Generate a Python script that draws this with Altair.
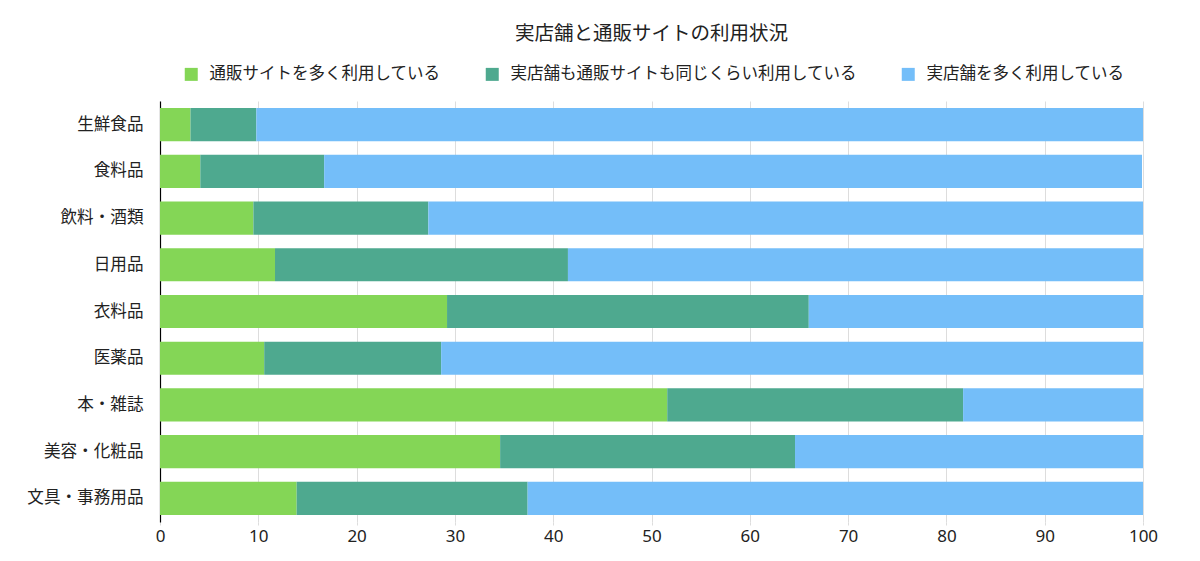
import altair as alt
import pandas as pd

categories = ["生鮮食品", "食料品", "飲料・酒類", "日用品", "衣料品", "医薬品", "本・雑誌", "美容・化粧品", "文具・事務用品"]
series = ["通販サイトを多く利用している", "実店舗も通販サイトも同じくらい利用している", "実店舗を多く利用している"]
online = [3.1, 4.1, 9.5, 11.7, 29.2, 10.6, 51.6, 34.6, 13.9]
both = [6.7, 12.6, 17.8, 29.8, 36.8, 18.0, 30.1, 30.0, 23.5]
store = [90.2, 83.2, 72.7, 58.5, 34.0, 71.4, 18.3, 35.4, 62.6]
colors = ["#84D656", "#4EA98F", "#74BEF9"]
tick_values = [0, 10, 20, 30, 40, 50, 60, 70, 80, 90, 100]

rows = []
for i, c in enumerate(categories):
    for j, vals in enumerate([online, both, store]):
        rows.append({"category": c, "series": series[j], "value": vals[i], "order": j})
df = pd.DataFrame(rows)

FONT = "Noto Sans CJK JP"

chart = alt.Chart(df).mark_bar().encode(
    y=alt.Y("category:N", sort=categories, title=None,
            scale=alt.Scale(paddingInner=0.29, paddingOuter=0.15),
            axis=alt.Axis(ticks=False, domain=True, domainColor="#000000", domainWidth=1.2,
                          labelPadding=17, labelFontSize=16.6, labelColor="#222222", labelFont=FONT)),
    x=alt.X("value:Q", stack="zero", title=None,
            scale=alt.Scale(domain=[0, 100], nice=False),
            axis=alt.Axis(values=tick_values, domain=False, grid=True, gridColor="#dddddd",
                          ticks=True, tickColor="#dddddd", tickSize=3, labelPadding=3,
                          labelFlush=False,
                          labelFontSize=17, labelColor="#222222", labelFont="Noto Sans", format="d")),
    color=alt.Color("series:N", sort=series,
                    scale=alt.Scale(domain=series, range=colors),
                    legend=alt.Legend(title=None, orient="none", legendX=23, legendY=-35,
                                      direction="horizontal", columns=3, columnPadding=43,
                                      symbolType="square", symbolSize=169, symbolStrokeWidth=0,
                                      labelFontSize=16.5, labelFont=FONT, labelColor="#222222",
                                      labelOffset=10, padding=0, labelLimit=500)),
    order=alt.Order("order:Q"),
).properties(
    width=983, height=421,
    title=alt.TitleParams("実店舗と通販サイトの利用状況", anchor="middle", fontSize=19.5,
                          font=FONT, fontWeight="normal", color="#222222", offset=22),
    autosize="none",
    padding={"left": 152, "top": 93, "right": 41, "bottom": 45},
).configure_view(stroke=None)

chart.save("out.html", embed_options={"renderer": "svg", "actions": False})
